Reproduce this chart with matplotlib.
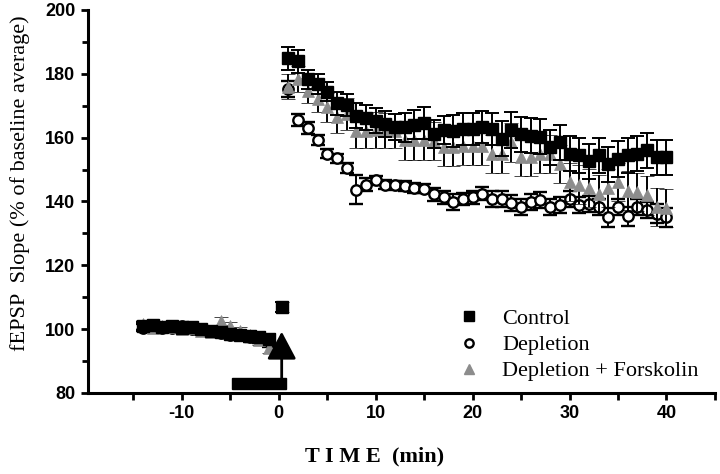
import numpy as np
import matplotlib
matplotlib.use('Agg')
import matplotlib.pyplot as plt
from matplotlib.patches import Rectangle, FancyArrowPatch

# baseline (min -14 .. -1)
t_base = list(range(-14, 0))
ctrl_base = [101, 101.2, 100.8, 101, 100.5, 100.6, 100, 99.5, 99, 98.5, 98.2, 97.8, 97.5, 97]
depl_base = [100.5, 101, 100.5, 100.2, 101, 100, 99.8, 99.3, 98.8, 98.3, 98, 97.5, 97, 96]
forsk_base = [101.5, 100.5, 101, 100.8, 100, 100.5, 99.5, 99, 102.5, 101, 99.5, 98, 96.5, 94]
base_err = [1.2, 1.2, 1.2, 1.2, 1.2, 1.2, 1.2, 1.2, 1.2, 1.2, 1.2, 1.5, 1.5, 1.5]

# single point just after tetanus
t_zero = [0.3]
zero_val = [107]
zero_err = [1.5]

# post-tetanus (min 1 .. 40)
t_post = list(range(1, 41))
ctrl_post = [184.8, 183.9, 178.3, 176.8, 174.4, 170.7, 170.3, 166.9, 166.3, 165.3,
             164.3, 163.4, 163.2, 164.0, 164.5, 161.1, 162.4, 162.2, 162.6, 162.6,
             163.2, 162.6, 159.6, 162.4, 161.1, 160.6, 160.3, 157.0, 158.5, 154.9,
             154.4, 152.6, 154.4, 151.6, 153.3, 154.4, 154.9, 156.1, 153.9, 153.9]
ctrl_err = [3.5, 3.5, 3, 3, 3, 3.5, 3.5, 4, 4, 4, 4, 4, 4.5, 4.5, 5, 4.5, 4.5, 5, 5, 5,
            5, 5, 5.5, 5.5, 5.5, 5.5, 5.5, 5.5, 5.5, 5.5, 5.5, 5.5, 5.5, 5.5, 5.5,
            5.5, 5.5, 5.5, 5.5, 5.5]
depl_post = [175.2, 165.5, 163.0, 159.3, 155.0, 153.5, 150.5, 143.7, 145.3, 146.6,
             145.3, 145.0, 144.8, 144.3, 144.0, 142.2, 141.3, 139.8, 140.8, 141.3,
             142.4, 140.8, 140.8, 139.4, 138.2, 139.8, 140.5, 138.4, 139.0, 140.8,
             139.0, 139.3, 138.4, 135.1, 138.2, 135.3, 138.2, 137.2, 136.2, 135.1]
depl_err = [2.5, 2, 2, 1.5, 1.5, 1.5, 1.5, 4.5, 2, 1.5, 1.5, 1.5, 1.5, 1.5, 1.5, 2, 2,
            2.5, 2, 2, 2, 2.5, 2.5, 2.5, 2.5, 2.5, 2.5, 2.5, 2.5, 2.5, 2.5, 2.5, 2.5,
            3, 2.5, 3, 2.5, 2.5, 3, 3]
forsk_post = [176.0, 178.3, 174.7, 172.0, 169.5, 166.6, 167.4, 162.2, 162.2, 162.4,
              162.2, 162.2, 159.1, 159.1, 159.1, 159.0, 157.0, 157.0, 157.5, 157.5,
              157.5, 154.9, 154.9, 158.5, 153.9, 153.9, 154.9, 154.9, 151.8, 146.0,
              145.3, 144.3, 142.2, 144.3, 146.0, 143.4, 142.9, 141.9, 138.2, 138.0]
forsk_err = [4, 4, 4, 4, 4.5, 5, 5, 5.5, 5.5, 5.5, 5.5, 5.5, 6, 6, 6, 6, 6, 6, 6, 6,
             6, 6, 6, 6, 6, 6, 6, 6, 6, 6, 6, 6, 6, 6, 6, 6, 6, 6, 6, 6]

x_ticks = [-15, -10, -5, 0, 5, 10, 15, 20, 25, 30, 35, 40, 45]
x_labels = ['', '-10', '', '0', '', '10', '', '20', '', '30', '', '40', '']
y_ticks = [80, 100, 120, 140, 160, 180, 200]

serif = ['Liberation Serif', 'DejaVu Serif']
sans = ['Liberation Sans', 'DejaVu Sans']

fig = plt.figure(figsize=(7.2, 4.74), dpi=100)
ax = fig.add_axes([0.122, 0.171, 0.871, 0.808])

eb = dict(ecolor='black', elinewidth=1.4, capsize=5, capthick=1.4, linestyle='none')
gray = '#8c8c8c'

# depletion
for t, v, e in [(t_base, depl_base, base_err), (t_post, depl_post, depl_err)]:
    ax.errorbar(t, v, yerr=e, marker='o', ms=7.5, mfc='white', mec='black', mew=1.7,
                zorder=3, **eb)
# forskolin
for t, v, e in [(t_base, forsk_base, base_err), (t_zero, zero_val, zero_err),
                (t_post, forsk_post, forsk_err)]:
    ax.errorbar(t, v, yerr=e, marker='^', ms=9, mfc=gray, mec=gray, mew=0.5,
                zorder=4, **eb)
# control
for t, v, e in [(t_base, ctrl_base, base_err), (t_zero, zero_val, zero_err),
                (t_post, ctrl_post, ctrl_err)]:
    ax.errorbar(t, v, yerr=e, marker='s', ms=8, mfc='black', mec='black',
                zorder=5, **eb)

# depletion bar + tetanus arrow
ax.add_patch(Rectangle((-4.8, 81.3), 5.5, 3.4, color='black', zorder=6))
ax.add_patch(FancyArrowPatch((0.3, 84.7), (0.3, 99.2), arrowstyle='-|>,head_width=9,head_length=17',
                             mutation_scale=1, lw=2, color='black', shrinkA=0, shrinkB=0, zorder=6))

ax.set_xlim(-19.7, 44.6)
ax.set_ylim(80, 200)
ax.set_xticks(x_ticks)
ax.set_xticklabels(x_labels, family=sans, fontsize=13, fontweight='bold')
ax.set_yticks(y_ticks)
ax.set_yticks([90, 110, 130, 150, 170, 190], minor=True)
ax.set_yticklabels([str(y) for y in y_ticks], family=sans, fontsize=13, fontweight='bold')
ax.tick_params(axis='both', which='major', direction='out', length=5, width=2, pad=4)
ax.tick_params(axis='y', which='minor', direction='out', length=4, width=2)

for s in ['top', 'right']:
    ax.spines[s].set_visible(False)
for s in ['left', 'bottom']:
    ax.spines[s].set_linewidth(2.2)

ax.set_xlabel('T I M E  (min)', family=serif, fontsize=16, fontweight='bold')
ax.xaxis.set_label_coords(0.458, -0.14)
ax.set_ylabel('fEPSP  Slope (% of baseline average)', family=serif, fontsize=16)
ax.yaxis.set_label_coords(-0.092, 0.548)

h1 = plt.Line2D([], [], marker='s', ms=7, color='black', ls='none')
h2 = plt.Line2D([], [], marker='o', ms=6, mfc='white', mec='black', mew=1.7, ls='none')
h3 = plt.Line2D([], [], marker='^', ms=7, mfc=gray, mec=gray, ls='none')
ax.legend([h1, h2, h3], ['Control', 'Depletion', 'Depletion + Forskolin'],
          loc='upper left', bbox_to_anchor=(0.59, 0.22), frameon=False,
          prop={'family': serif, 'size': 16}, handlelength=1, handletextpad=1.0,
          labelspacing=0.25, borderaxespad=0, borderpad=0)

fig.savefig('out.png', dpi=100)
